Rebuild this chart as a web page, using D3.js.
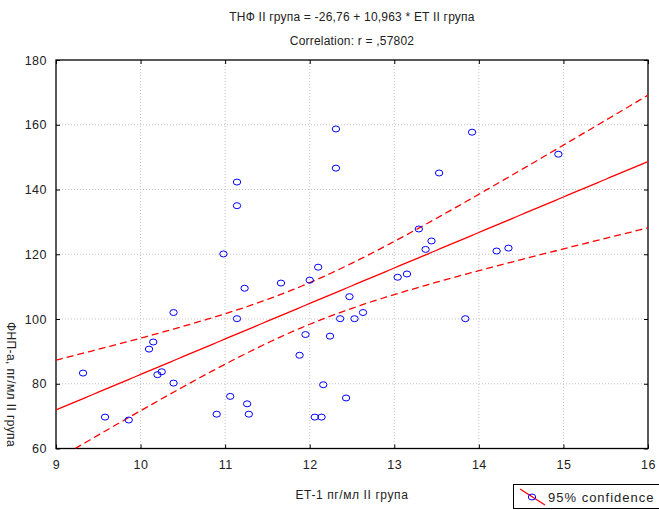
<!DOCTYPE html>
<html>
<head>
<meta charset="utf-8">
<script src="https://cdn.jsdelivr.net/npm/d3@7"></script>
<style>
  body { margin: 0; background: #fff; }
  text { font-family: "Liberation Sans", Arial, sans-serif; fill: #222; }
</style>
</head>
<body>
<script>
// scatter values (ET-1 vs ФНП-а)
var etValues = [9.32, 9.58, 9.86, 10.10, 10.15, 10.20, 10.25, 10.39, 10.39, 10.90,
                10.98, 11.06, 11.14, 11.14, 11.14, 11.23, 11.26, 11.28, 11.66, 11.88,
                11.95, 12.00, 12.06, 12.10, 12.14, 12.16, 12.24, 12.31, 12.31, 12.36,
                12.43, 12.47, 12.53, 12.63, 13.04, 13.15, 13.29, 13.37, 13.44, 13.53,
                13.84, 13.92, 14.21, 14.35, 14.94];
var fnpValues = [83.3, 69.7, 68.8, 90.7, 92.9, 82.8, 83.7, 102.0, 80.2, 70.6,
                 120.1, 76.1, 142.3, 135.0, 100.1, 109.5, 73.8, 70.6, 111.1, 88.8,
                 95.2, 112.0, 69.7, 116.0, 69.7, 79.7, 94.7, 158.7, 146.6, 100.1,
                 75.6, 106.9, 100.1, 102.0, 112.9, 113.9, 127.8, 121.5, 124.1, 145.1,
                 100.1, 157.7, 121.0, 121.9, 150.9];

// regression from the title
var intercept = -26.76, slope = 10.963;

var xTicks = [9, 10, 11, 12, 13, 14, 15, 16];
var yTicks = [60, 80, 100, 120, 140, 160, 180];

var width = 659, height = 510;
var pLeft = 56, pRight = 648, pTop = 60, pBottom = 448.5;

var svg = d3.select("body").append("svg")
    .attr("width", width)
    .attr("height", height);

var x = d3.scaleLinear().domain([9, 16]).range([pLeft, pRight]);
var y = d3.scaleLinear().domain([60, 180]).range([pBottom, pTop]);

// titles
svg.append("text")
    .attr("x", 352).attr("y", 21)
    .attr("text-anchor", "middle")
    .style("font-size", "12px").style("letter-spacing", "0.2px")
    .text("ТНФ II група = -26,76 + 10,963 * ET II група");
svg.append("text")
    .attr("x", 352).attr("y", 45)
    .attr("text-anchor", "middle")
    .style("font-size", "12px").style("letter-spacing", "0.2px")
    .text("Correlation: r = ,57802");

// grid
svg.append("g").selectAll("line").data(xTicks.slice(1, -1)).enter().append("line")
    .attr("x1", d => x(d)).attr("x2", d => x(d))
    .attr("y1", pTop).attr("y2", pBottom)
    .attr("stroke", "#c4c4c4").attr("stroke-dasharray", "1,2");
svg.append("g").selectAll("line").data(yTicks.slice(1, -1)).enter().append("line")
    .attr("y1", d => y(d)).attr("y2", d => y(d))
    .attr("x1", pLeft).attr("x2", pRight)
    .attr("stroke", "#c4c4c4").attr("stroke-dasharray", "1,2");

// axes with inward ticks
svg.append("g")
    .attr("transform", "translate(0," + pBottom + ")")
    .call(d3.axisBottom(x).tickValues(xTicks).tickFormat(d3.format("d"))
        .tickSizeInner(-4).tickSizeOuter(0).tickPadding(12))
    .call(g => g.select(".domain").remove())
    .call(g => g.selectAll("text").style("font-size", "12.5px").style("letter-spacing", "0.5px").attr("fill", "#222"));
svg.append("g")
    .attr("transform", "translate(" + pLeft + ",0)")
    .call(d3.axisLeft(y).tickValues(yTicks).tickFormat(d3.format("d"))
        .tickSizeInner(-4).tickSizeOuter(0).tickPadding(9))
    .call(g => g.select(".domain").remove())
    .call(g => g.selectAll("text").style("font-size", "12.5px").style("letter-spacing", "0.5px").attr("fill", "#222"));
svg.append("g")
    .attr("transform", "translate(" + pRight + ",0)")
    .call(d3.axisRight(y).tickValues(yTicks).tickSizeInner(-4).tickSizeOuter(0).tickFormat(""))
    .call(g => g.select(".domain").remove());
svg.append("g")
    .attr("transform", "translate(0," + pTop + ")")
    .call(d3.axisTop(x).tickValues(xTicks).tickSizeInner(-4).tickSizeOuter(0).tickFormat(""))
    .call(g => g.select(".domain").remove());

svg.append("rect")
    .attr("x", pLeft).attr("y", pTop)
    .attr("width", pRight - pLeft).attr("height", pBottom - pTop)
    .attr("fill", "none").attr("stroke", "#000").attr("stroke-width", 1.3);

// axis titles
svg.append("text")
    .attr("x", 352).attr("y", 499)
    .attr("text-anchor", "middle")
    .style("font-size", "12px").style("letter-spacing", "0.6px")
    .text("ET-1 пг/мл II група");
svg.append("text")
    .attr("transform", "translate(7,322) rotate(90)")
    .style("font-size", "12px").style("letter-spacing", "0.4px")
    .text("ФНП-а, пг/мл II група");

// clip for fitted lines
svg.append("clipPath").attr("id", "plotclip")
  .append("rect")
    .attr("x", pLeft).attr("y", pTop)
    .attr("width", pRight - pLeft).attr("height", pBottom - pTop);

// 95% confidence band for the mean, from the scatter and the title's fit
var n = etValues.length;
var xMean = d3.mean(etValues);
var sxx = d3.sum(etValues, d => (d - xMean) * (d - xMean));
var sse = d3.sum(etValues, (d, i) => Math.pow(fnpValues[i] - (intercept + slope * d), 2));
var s = Math.sqrt(sse / (n - 2));
var tval = 2.0167;
var grid = d3.range(9, 16.001, 0.05);

function fit(v) { return intercept + slope * v; }
function half(v) { return tval * s * Math.sqrt(1 / n + (v - xMean) * (v - xMean) / sxx); }

var line = d3.line().x(d => x(d[0])).y(d => y(d[1]));
var lines = svg.append("g").attr("clip-path", "url(#plotclip)");

lines.append("path")
    .attr("d", line(grid.map(v => [v, fit(v)])))
    .attr("fill", "none").attr("stroke", "#ff0000").attr("stroke-width", 1.3);
lines.append("path")
    .attr("d", line(grid.map(v => [v, fit(v) + half(v)])))
    .attr("fill", "none").attr("stroke", "#ff0000").attr("stroke-width", 1.3)
    .attr("stroke-dasharray", "7,4");
lines.append("path")
    .attr("d", line(grid.map(v => [v, fit(v) - half(v)])))
    .attr("fill", "none").attr("stroke", "#ff0000").attr("stroke-width", 1.3)
    .attr("stroke-dasharray", "7,4");

// points
svg.append("g").selectAll("ellipse")
    .data(etValues.map((d, i) => [d, fnpValues[i]]))
    .enter().append("ellipse")
    .attr("cx", d => x(d[0]))
    .attr("cy", d => y(d[1]))
    .attr("rx", 3.7).attr("ry", 3)
    .attr("fill", "none")
    .attr("stroke", "#0000ff").attr("stroke-width", 1);

// legend
var legend = svg.append("g");
legend.append("rect")
    .attr("x", 513.5).attr("y", 484.5)
    .attr("width", 150).attr("height", 24)
    .attr("fill", "#fff").attr("stroke", "#000").attr("stroke-width", 1);
legend.append("line")
    .attr("x1", 520).attr("y1", 489).attr("x2", 545).attr("y2", 505)
    .attr("stroke", "#ff0000").attr("stroke-width", 1.3);
legend.append("ellipse")
    .attr("cx", 532).attr("cy", 497).attr("rx", 3.7).attr("ry", 3)
    .attr("fill", "none").attr("stroke", "#0000ff");
legend.append("text")
    .attr("x", 548).attr("y", 502)
    .style("font-size", "13px").style("letter-spacing", "1px")
    .text("95% confidence");
</script>
</body>
</html>
